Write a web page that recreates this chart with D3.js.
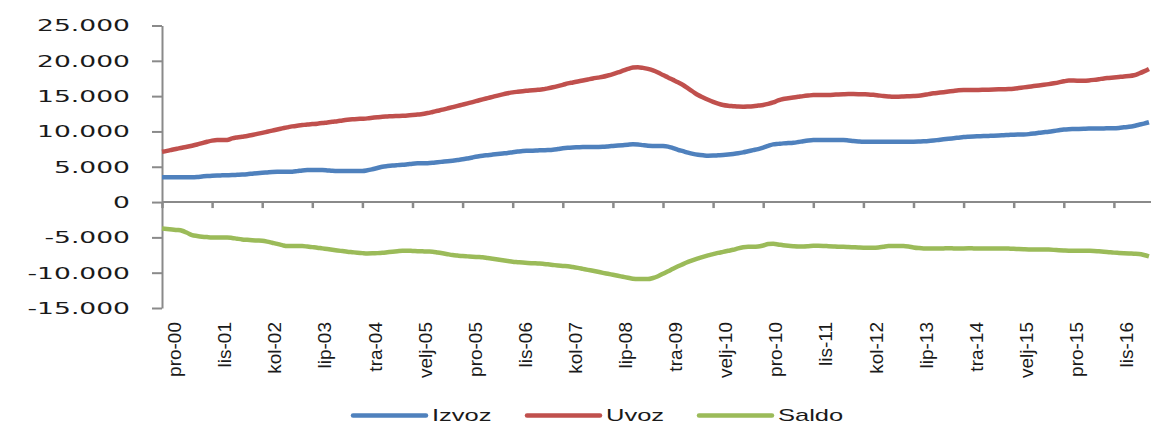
<!DOCTYPE html>
<html>
<head>
<meta charset="utf-8">
<script src="https://cdn.jsdelivr.net/npm/d3@7"></script>
<style>
  body { margin: 0; background: #fff; }
  svg { display: block; }
</style>
</head>
<body>
<div id="chart"></div>
<script>
// monthly values, pro-00 onwards (one row = 10 months)
const izvoz = [
  3500, 3500, 3500, 3500, 3500, 3510, 3520, 3560, 3620, 3680,
  3730, 3760, 3780, 3800, 3820, 3860, 3900, 3950, 4020, 4090,
  4150, 4200, 4250, 4280, 4290, 4290, 4300, 4380, 4480, 4530,
  4540, 4540, 4530, 4480, 4420, 4390, 4390, 4390, 4390, 4390,
  4400, 4500, 4650, 4820, 5000, 5100, 5180, 5230, 5270, 5350,
  5440, 5480, 5480, 5500, 5560, 5640, 5710, 5780, 5860, 5950,
  6050, 6180, 6320, 6450, 6560, 6640, 6720, 6800, 6880, 6960,
  7060, 7150, 7230, 7260, 7280, 7310, 7340, 7360, 7400, 7500,
  7620, 7700, 7740, 7760, 7780, 7790, 7800, 7810, 7830, 7880,
  7940, 8000, 8060, 8120, 8170, 8150, 8060, 7980, 7950, 7940,
  7930, 7850, 7640, 7400, 7200, 6990, 6820, 6700, 6620, 6560,
  6580, 6620, 6660, 6720, 6800, 6900, 7040, 7200, 7350, 7500,
  7700, 7950, 8170, 8240, 8310, 8350, 8400, 8500, 8620, 8720,
  8780, 8790, 8790, 8790, 8780, 8780, 8780, 8720, 8640, 8580,
  8540, 8540, 8540, 8540, 8540, 8540, 8540, 8540, 8540, 8540,
  8540, 8560, 8600, 8650, 8720, 8800, 8880, 8960, 9040, 9120,
  9200, 9250, 9290, 9320, 9350, 9370, 9390, 9420, 9460, 9500,
  9540, 9570, 9580, 9620, 9700, 9800, 9880, 9960, 10060, 10170,
  10270, 10320, 10340, 10360, 10380, 10400, 10410, 10420, 10430, 10440,
  10450, 10500, 10580, 10660, 10780, 10950, 11100, 11300
];

const uvoz = [
  7120, 7250, 7400, 7550, 7700, 7830, 7980, 8150, 8350, 8540,
  8700, 8780, 8780, 8800, 9020, 9150, 9250, 9350, 9490, 9650,
  9800, 9960, 10120, 10280, 10430, 10580, 10720, 10820, 10900, 10980,
  11040, 11100, 11180, 11280, 11370, 11450, 11550, 11640, 11710, 11760,
  11800, 11850, 11930, 12010, 12080, 12120, 12160, 12190, 12220, 12260,
  12320, 12390, 12460, 12600, 12760, 12920, 13080, 13260, 13440, 13620,
  13800, 13980, 14160, 14350, 14540, 14720, 14900, 15080, 15250, 15400,
  15530, 15620, 15700, 15770, 15840, 15900, 15960, 16100, 16250, 16420,
  16600, 16800, 16940, 17080, 17220, 17360, 17500, 17620, 17740, 17920,
  18120, 18350, 18600, 18850, 19050, 19100, 19000, 18850, 18650, 18350,
  17980, 17650, 17300, 16950, 16570, 16100, 15620, 15150, 14800, 14480,
  14200, 13950, 13750, 13640, 13580, 13520, 13500, 13530, 13580, 13660,
  13750, 13900, 14100, 14400, 14600, 14700, 14800, 14900, 15000, 15080,
  15150, 15150, 15160, 15170, 15200, 15240, 15270, 15290, 15290, 15280,
  15260, 15240, 15180, 15100, 15020, 14960, 14920, 14920, 14950, 14980,
  15010, 15050, 15150, 15280, 15400, 15480, 15560, 15650, 15740, 15820,
  15860, 15870, 15870, 15880, 15900, 15920, 15940, 15960, 15980, 16000,
  16050, 16140, 16240, 16330, 16420, 16510, 16600, 16700, 16820, 16950,
  17100, 17200, 17200, 17190, 17180, 17220, 17300, 17400, 17510, 17580,
  17650, 17720, 17790, 17840, 17950, 18200, 18500, 18850
];

const saldo = [
  -3730, -3800, -3880, -3950, -4060, -4350, -4670, -4800, -4900, -4960,
  -5000, -5000, -5000, -5000, -5080, -5190, -5290, -5350, -5400, -5440,
  -5480, -5600, -5760, -5920, -6100, -6230, -6230, -6230, -6230, -6300,
  -6380, -6460, -6560, -6650, -6750, -6850, -6940, -7030, -7100, -7170,
  -7230, -7270, -7260, -7230, -7180, -7100, -7020, -6950, -6890, -6890,
  -6920, -6950, -6980, -7010, -7030, -7130, -7250, -7380, -7500, -7580,
  -7650, -7690, -7730, -7780, -7830, -7930, -8030, -8140, -8250, -8350,
  -8450, -8510, -8570, -8620, -8660, -8700, -8740, -8820, -8900, -8980,
  -9050, -9100, -9200, -9320, -9460, -9600, -9730, -9870, -10020, -10160,
  -10300, -10440, -10580, -10720, -10850, -10900, -10900, -10900, -10750, -10500,
  -10150, -9800, -9440, -9100, -8780, -8480, -8220, -7980, -7750, -7550,
  -7380, -7200, -7050, -6900, -6760, -6550, -6400, -6330, -6330, -6300,
  -6150, -5950, -5900, -6000, -6120, -6200, -6250, -6280, -6280, -6250,
  -6200, -6190, -6210, -6250, -6290, -6330, -6330, -6360, -6400, -6440,
  -6470, -6470, -6470, -6420, -6320, -6230, -6220, -6220, -6230, -6300,
  -6420, -6510, -6560, -6560, -6560, -6580, -6560, -6540, -6560, -6580,
  -6560, -6550, -6560, -6570, -6560, -6560, -6580, -6560, -6570, -6590,
  -6610, -6650, -6680, -6700, -6700, -6700, -6710, -6730, -6770, -6820,
  -6860, -6890, -6890, -6890, -6890, -6900, -6920, -6980, -7040, -7100,
  -7160, -7200, -7240, -7280, -7320, -7360, -7500, -7700
];

// one label every 10 months
const tickLabels = ["pro-00", "lis-01", "kol-02", "lip-03", "tra-04", "velj-05", "pro-05",
  "lis-06", "kol-07", "lip-08", "tra-09", "velj-10", "pro-10", "lis-11", "kol-12",
  "lip-13", "tra-14", "velj-15", "pro-15", "lis-16"];

const seriesNames = ["Izvoz", "Uvoz", "Saldo"];
const seriesColors = ["#4F81BD", "#C0504D", "#9BBB59"];
const yTicks = [-15000, -10000, -5000, 0, 5000, 10000, 15000, 20000, 25000];

const width = 1151;
const height = 424;

const svg = d3.select('#chart')
  .append('svg')
  .attr('width', width)
  .attr('height', height);

const n = izvoz.length;

const x = d3.scaleLinear()
  .domain([0, n - 1])
  .range([162, 162 + (n - 1) * 5.01]);

const y = d3.scaleLinear()
  .domain([-15000, 25000])
  .range([308, 25.5]);

const fmt = d3.formatLocale({ decimal: ",", thousands: ".", grouping: [3], currency: ["", ""], minus: "-" }).format(",");

// y axis
const yAxis = d3.axisLeft(y)
  .tickValues(yTicks)
  .tickFormat(fmt)
  .tickSizeInner(10)
  .tickSizeOuter(0);

const gy = svg.append('g')
  .attr('transform', `translate(${x(0)}, 0)`)
  .call(yAxis);

gy.select('.domain').attr('stroke', '#8a8a8a').attr('stroke-width', 2);
gy.selectAll('.tick line').attr('stroke', '#8a8a8a').attr('stroke-width', 2);
gy.selectAll('.tick text')
  .attr('x', -32)
  .attr('dy', '0.36em')
  .attr('fill', '#1a1a1a')
  .style('font-family', '"DejaVu Sans", Verdana, sans-serif')
  .style('font-size', '15px')
  .each(function() {
    // the reference labels are drawn wide
    const w = this.getComputedTextLength();
    d3.select(this).attr('textLength', w * 1.77).attr('lengthAdjust', 'spacingAndGlyphs');
  });

// x axis on the zero line
const tickIdx = tickLabels.map((d, i) => i * 10);

const xAxis = d3.axisBottom(x)
  .tickValues(tickIdx)
  .tickFormat((d, i) => tickLabels[i])
  .tickSizeInner(6)
  .tickSizeOuter(0);

const gx = svg.append('g')
  .attr('transform', `translate(0, ${y(0)})`)
  .call(xAxis);

gx.select('.domain')
  .attr('d', `M${x(0)},0H${width}`)
  .attr('stroke', '#8a8a8a')
  .attr('stroke-width', 2);
gx.selectAll('.tick line').attr('stroke', '#8a8a8a').attr('stroke-width', 2.5);
gx.selectAll('.tick text')
  .attr('y', null)
  .attr('dy', '0.35em')
  .attr('text-anchor', 'end')
  .attr('transform', `translate(12, ${322 - y(0)}) rotate(-90)`)
  .attr('fill', '#1a1a1a')
  .style('font-family', '"Liberation Sans", Arial, sans-serif')
  .style('font-size', '19px');

// lines
const line = d3.line()
  .x((d, i) => x(i))
  .y(d => y(d))
  .curve(d3.curveMonotoneX);

[izvoz, uvoz, saldo].forEach((values, k) => {
  svg.append('path')
    .datum(values)
    .attr('fill', 'none')
    .attr('stroke', seriesColors[k])
    .attr('stroke-width', 4.5)
    .attr('stroke-linejoin', 'round')
    .attr('d', line);
});

// legend
const legendX = [353, 527, 699];
const legend = svg.append('g');

seriesNames.forEach((name, k) => {
  legend.append('line')
    .attr('x1', legendX[k])
    .attr('x2', legendX[k] + 73)
    .attr('y1', 415.5)
    .attr('y2', 415.5)
    .attr('stroke', seriesColors[k])
    .attr('stroke-width', 4.5)
    .attr('stroke-linecap', 'round');
  const t = legend.append('text')
    .attr('x', legendX[k] + 79)
    .attr('y', 421)
    .attr('fill', '#1a1a1a')
    .style('font-family', '"Liberation Sans", Arial, sans-serif')
    .style('font-size', '17px')
    .text(name);
  const w = t.node().getComputedTextLength();
  t.attr('textLength', w * 1.5).attr('lengthAdjust', 'spacingAndGlyphs');
});
</script>
</body>
</html>
